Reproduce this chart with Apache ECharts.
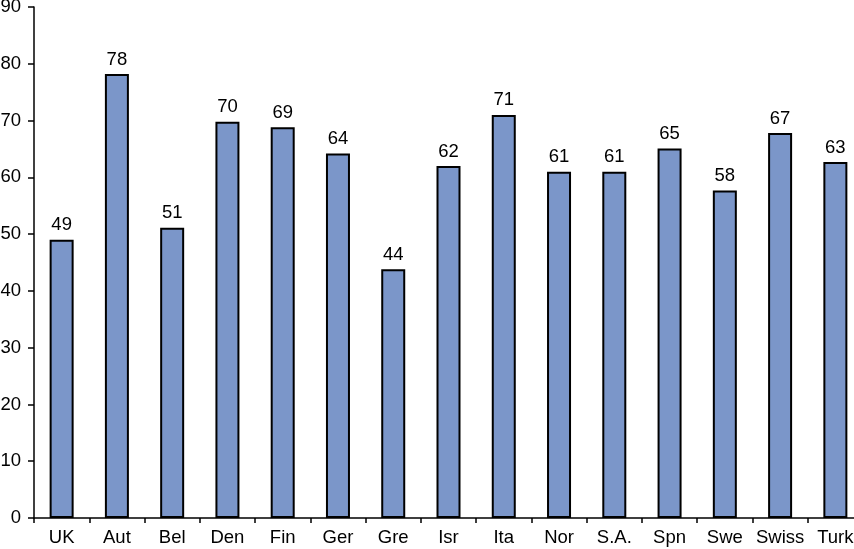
<!DOCTYPE html>
<html><head><meta charset="utf-8">
<script src="https://cdn.jsdelivr.net/npm/echarts@6/dist/echarts.min.js"></script>
<style>html,body{margin:0;padding:0;background:#fff}#c{width:854px;height:549px}</style>
</head><body><div id="c"></div>
<script>
const categories = ["UK","Aut","Bel","Den","Fin","Ger","Gre","Isr","Ita","Nor","S.A.","Spn","Swe","Swiss","Turk"];
const values = [49.0,78.2,51.1,69.8,68.8,64.2,43.8,62.0,71.0,61.0,61.0,65.1,57.7,67.8,62.7];
const valueLabels = ["49","78","51","70","69","64","44","62","71","61","61","65","58","67","63"];
const yTicks = [0,10,20,30,40,50,60,70,80,90];

const chart = echarts.init(document.getElementById('c'), null, {renderer:'canvas'});
const font = '"Liberation Sans", Arial, sans-serif';
chart.setOption({
  animation:false,
  grid:{left:34,right:-9,top:7,bottom:31,containLabel:false,outerBoundsMode:'none'},
  xAxis:{type:'category',data:categories,
    axisLine:{lineStyle:{color:'#000',width:1.5}},
    axisTick:{show:true,length:5,lineStyle:{color:'#000',width:1.5}},
    axisLabel:{color:'#000',fontSize:18.5,fontFamily:font,margin:10,interval:0}},
  yAxis:{type:'value',min:yTicks[0],max:yTicks[yTicks.length-1],interval:10,
    splitLine:{show:false},
    axisLine:{show:true,lineStyle:{color:'#000',width:1.5}},
    axisTick:{show:true,length:6,lineStyle:{color:'#000',width:1.5}},
    axisLabel:{color:'#000',fontSize:18.5,fontFamily:font,margin:13}},
  series:[{type:'bar',data:values,barWidth:24,
    itemStyle:{color:'#7b96c9',borderColor:'#000',borderWidth:2},
    label:{show:true,position:'top',distance:5,color:'#000',fontSize:18.5,fontFamily:font,
      formatter:p=>valueLabels[p.dataIndex]}}]
});
</script></body></html>
